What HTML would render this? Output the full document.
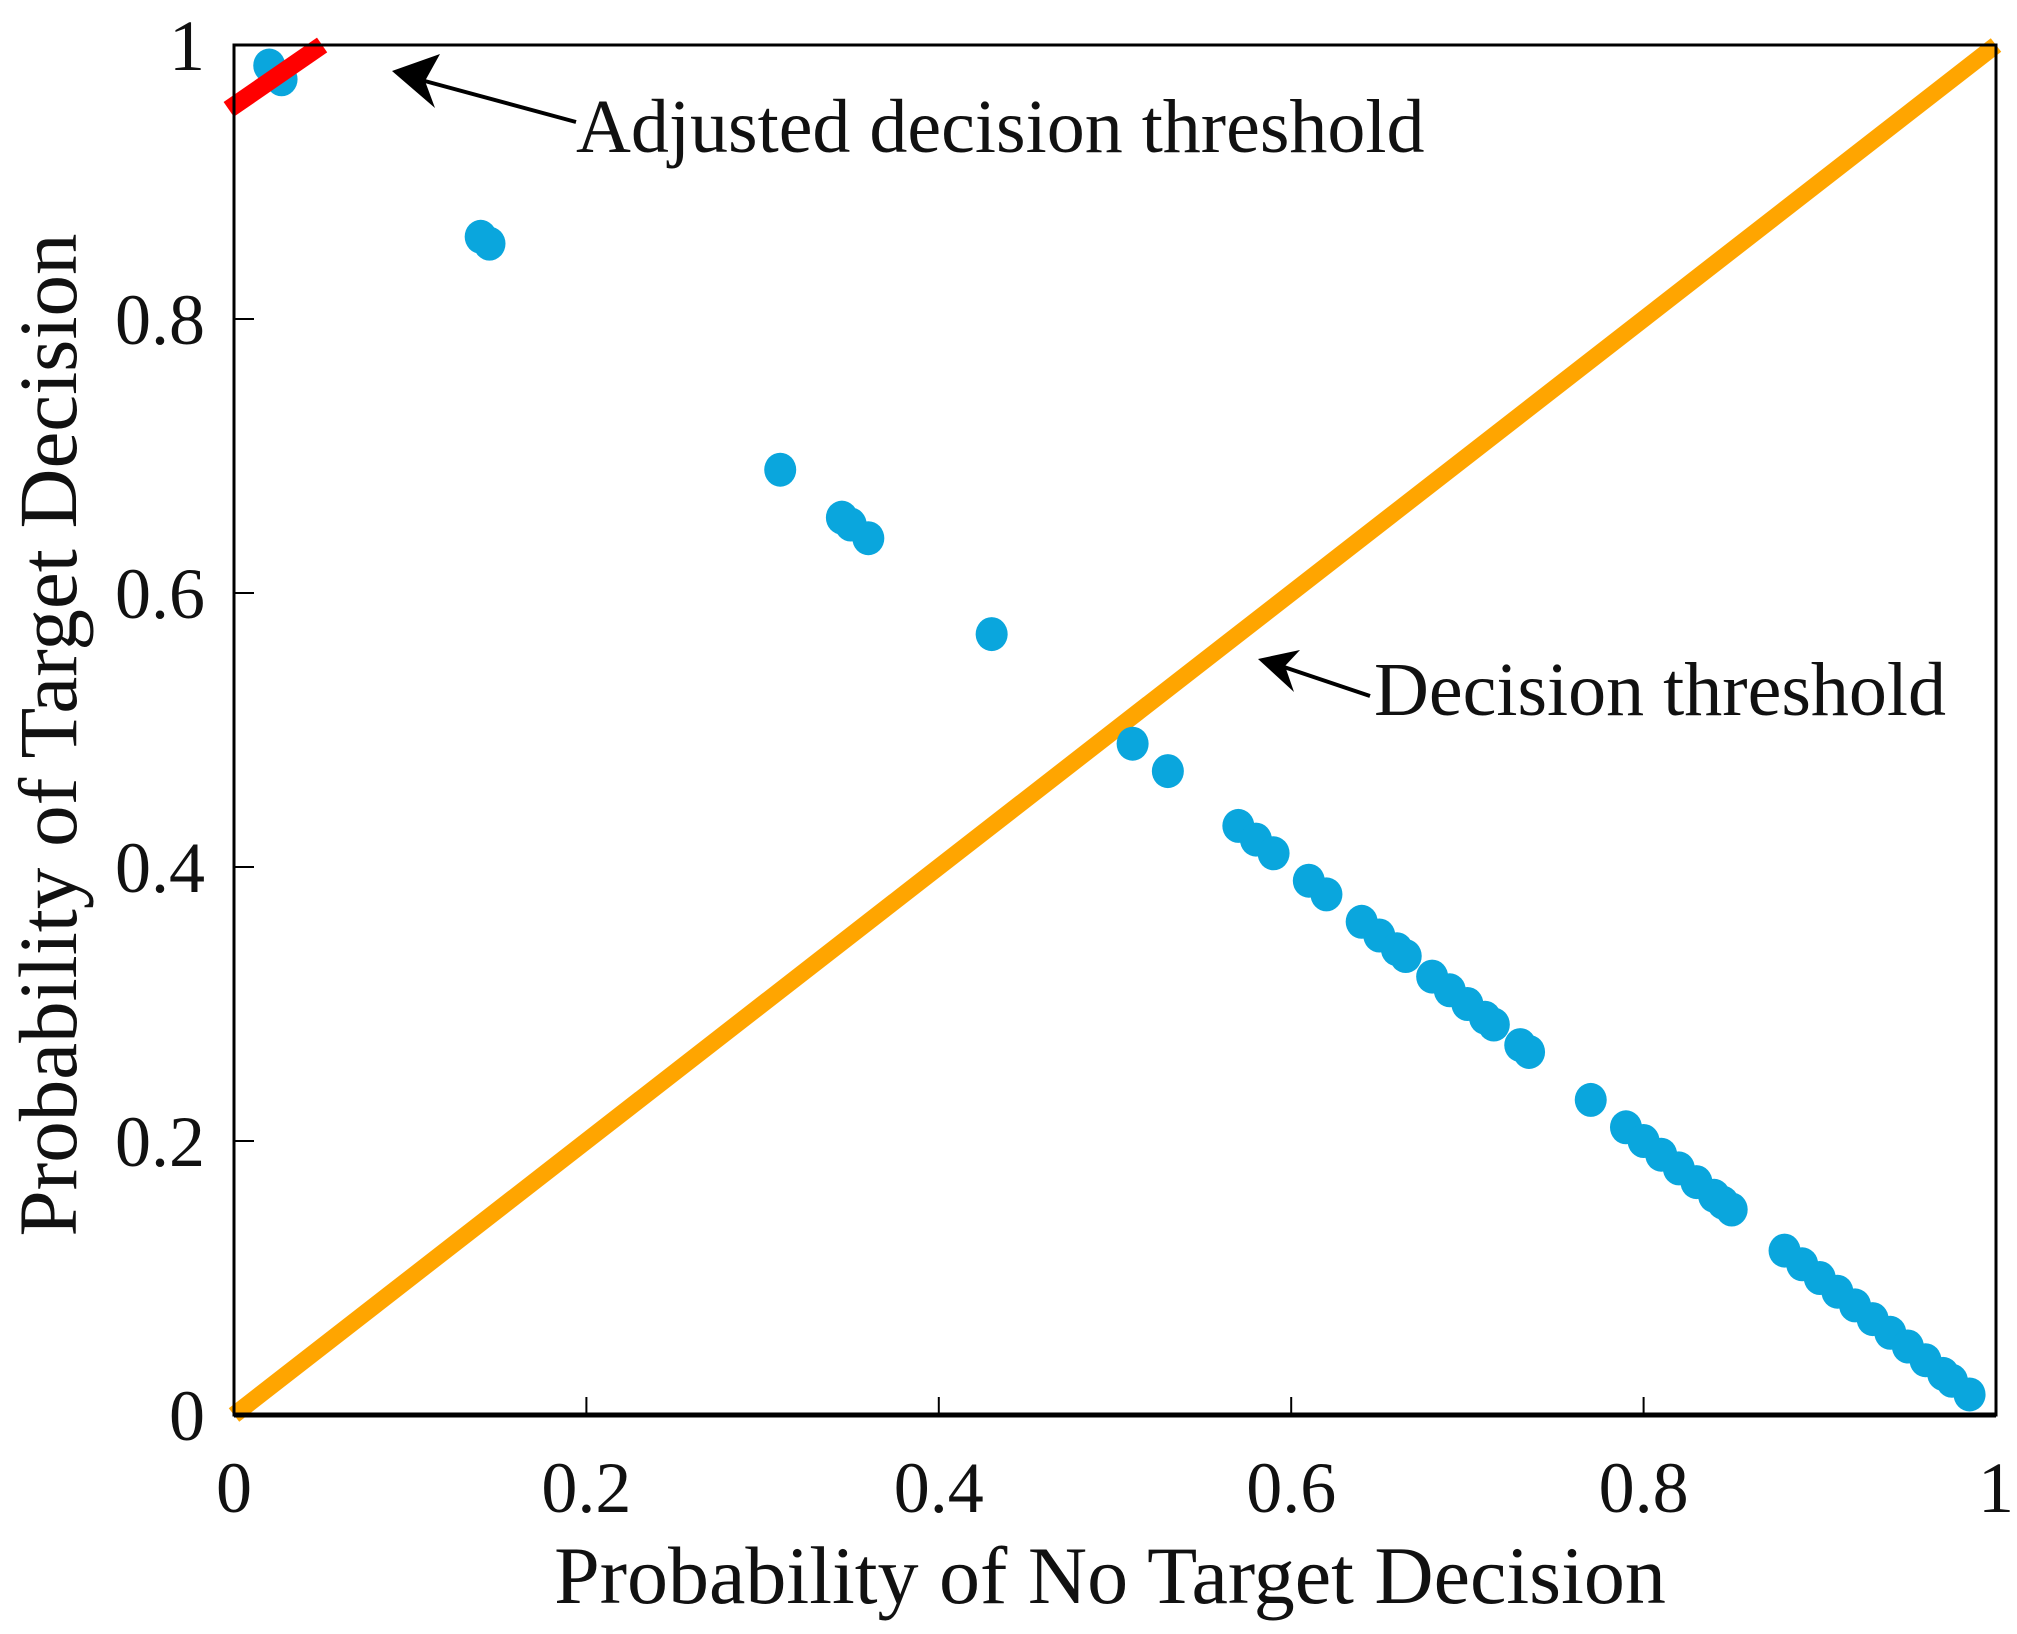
<!DOCTYPE html>
<html><head><meta charset="utf-8"><style>
html,body{margin:0;padding:0;background:#fff}
svg{display:block}
text{font-family:"Liberation Serif",serif;fill:#111}
</style></head><body>
<svg id="chart" width="2017" height="1634" viewBox="0 0 2017 1634" xmlns="http://www.w3.org/2000/svg">
<g id="marks"></g>
<g id="axes"></g>
<text x="1110" y="1603" font-size="82" text-anchor="middle">Probability of No Target Decision</text>
<text transform="translate(76,735) rotate(-90)" font-size="83" text-anchor="middle">Probability of Target Decision</text>
<g>
<line x1="576" y1="122" x2="410" y2="77" stroke="#000" stroke-width="4"/>
<polygon points="392,71 440,54 425,81 435,108" fill="#000"/>
<text x="576" y="152" font-size="76">Adjusted decision threshold</text>
</g>
<g>
<line x1="1370" y1="696" x2="1275" y2="664" stroke="#000" stroke-width="4"/>
<polygon points="1258,659 1300,650 1285,666 1294,692" fill="#000"/>
<text x="1374" y="715" font-size="76">Decision threshold</text>
</g>
</svg>
<script>
const xTicks = [0, 0.2, 0.4, 0.6, 0.8, 1];
const yTicks = [0, 0.2, 0.4, 0.6, 0.8, 1];
const tickLabels = ["0", "0.2", "0.4", "0.6", "0.8", "1"];
const noTargetProb = [0.02,0.027,0.14,0.145,0.31,0.345,0.35,0.36,0.43,0.51,0.53,0.57,0.58,0.59,0.61,0.62,0.64,0.65,0.66,0.665,0.68,0.69,0.70,0.71,0.715,0.73,0.735,0.77,0.79,0.80,0.81,0.82,0.83,0.84,0.845,0.85,0.88,0.89,0.90,0.91,0.92,0.93,0.94,0.95,0.96,0.97,0.975,0.985];
const targetProb = [0.985,0.975,0.86,0.855,0.69,0.655,0.65,0.64,0.57,0.49,0.47,0.43,0.42,0.41,0.39,0.38,0.36,0.35,0.34,0.335,0.32,0.31,0.30,0.29,0.285,0.27,0.265,0.23,0.21,0.20,0.19,0.18,0.17,0.16,0.155,0.15,0.12,0.11,0.10,0.09,0.08,0.07,0.06,0.05,0.04,0.03,0.025,0.015];
const thresholdLine = [[0,0],[1,1]];
const adjustedLine = [[-0.003,0.953],[0.05,1.0]];

const L=234,R=1996,T=45,B=1415;
const sx = v => L + v*(R-L);
const sy = v => B - v*(B-T);
const NS="http://www.w3.org/2000/svg";
const marks=document.getElementById('marks');
const axes=document.getElementById('axes');
function mk(tag,attrs,parent){const e=document.createElementNS(NS,tag);for(const k in attrs)e.setAttribute(k,attrs[k]);parent.appendChild(e);return e;}

const tl=mk('line',{x1:sx(thresholdLine[0][0]),y1:sy(thresholdLine[0][1]),x2:sx(thresholdLine[1][0]),y2:sy(thresholdLine[1][1]),stroke:'#FFA500','stroke-width':17},marks);



for(let i=0;i<noTargetProb.length;i++){
  const c=mk('ellipse',{cx:sx(noTargetProb[i]),cy:sy(targetProb[i]),rx:16,ry:17,fill:'#0AA6DD'},marks);
  
  
}

const al=mk('line',{x1:sx(adjustedLine[0][0]),y1:sy(adjustedLine[0][1]),x2:sx(adjustedLine[1][0]),y2:sy(adjustedLine[1][1]),stroke:'#FF0000','stroke-width':18},marks);



const frame=mk('rect',{x:L,y:T,width:R-L,height:B-T,fill:'none',stroke:'#000','stroke-width':3},axes);


const bx=mk('line',{x1:L,y1:B,x2:R,y2:B,stroke:'#000','stroke-width':5},axes);



xTicks.forEach((v,i)=>{
  const t=mk('line',{x1:sx(v),y1:B,x2:sx(v),y2:B-18,stroke:'#000','stroke-width':2},axes);
  
  
  const lb=mk('text',{x:sx(v),y:1512,'font-size':72,'text-anchor':'middle'},axes);
  lb.textContent=tickLabels[i];
  
  
});
yTicks.forEach((v,i)=>{
  const t=mk('line',{x1:L,y1:sy(v),x2:L+20,y2:sy(v),stroke:'#000','stroke-width':2},axes);
  
  
  const lb=mk('text',{x:205,y:sy(v)+25,'font-size':72,'text-anchor':'end'},axes);
  lb.textContent=tickLabels[i];
  
  
});
</script>
</body></html>
